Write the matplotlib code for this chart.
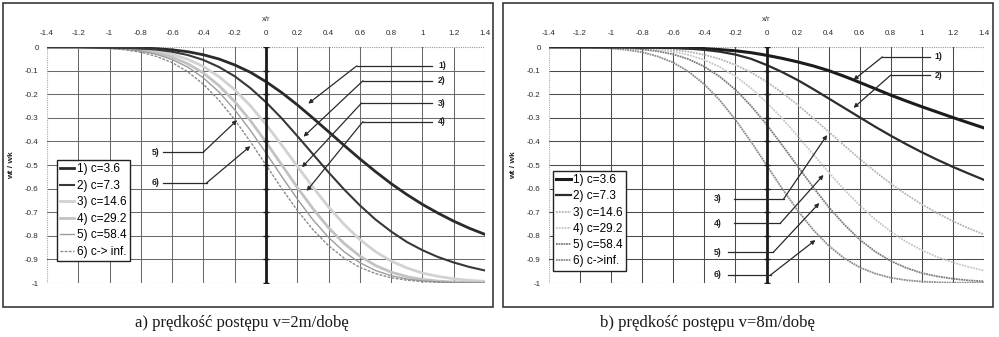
import numpy as np
import matplotlib.pyplot as plt
from matplotlib.patches import Rectangle

x_r = [-1.4, -1.2, -1.0, -0.9, -0.8, -0.7, -0.6, -0.5, -0.4, -0.3, -0.2, -0.1, 0.0,
       0.1, 0.2, 0.3, 0.4, 0.5, 0.6, 0.7, 0.8, 0.9, 1.0, 1.1, 1.2, 1.3, 1.4]

labels = ["1) c=3.6", "2) c=7.3", "3) c=14.6", "4) c=29.2", "5) c=58.4"]
label_inf_a = "6) c-> inf."
label_inf_b = "6) c->inf."

# c -> inf. (same in both panels)
w_inf = [-0.000, -0.001, -0.006, -0.012, -0.022, -0.040, -0.066, -0.105, -0.158, -0.226, -0.308, -0.401, -0.500,
         -0.599, -0.692, -0.774, -0.842, -0.895, -0.934, -0.960, -0.978, -0.988, -0.994, -0.997, -0.999, -0.999, -1.000]

# a) v = 2 m/dobe
a_c1 = [-0.000, -0.000, -0.001, -0.002, -0.004, -0.007, -0.012, -0.020, -0.033, -0.051, -0.076, -0.107, -0.147,
        -0.193, -0.245, -0.301, -0.359, -0.417, -0.474, -0.528, -0.579, -0.625, -0.667, -0.704, -0.738, -0.768, -0.794]
a_c2 = [-0.000, -0.000, -0.002, -0.003, -0.006, -0.011, -0.020, -0.034, -0.055, -0.085, -0.124, -0.174, -0.234,
        -0.302, -0.377, -0.454, -0.531, -0.604, -0.671, -0.731, -0.782, -0.826, -0.861, -0.890, -0.913, -0.932, -0.947]
a_c3 = [-0.000, -0.001, -0.002, -0.005, -0.010, -0.018, -0.031, -0.052, -0.083, -0.126, -0.181, -0.249, -0.328,
        -0.415, -0.505, -0.594, -0.678, -0.752, -0.816, -0.867, -0.907, -0.936, -0.958, -0.972, -0.982, -0.989, -0.993]
a_c4 = [-0.000, -0.001, -0.004, -0.007, -0.014, -0.025, -0.043, -0.071, -0.110, -0.164, -0.231, -0.312, -0.403,
        -0.499, -0.595, -0.685, -0.766, -0.833, -0.886, -0.926, -0.954, -0.973, -0.985, -0.992, -0.996, -0.998, -0.999]
a_c5 = [-0.000, -0.001, -0.004, -0.009, -0.017, -0.031, -0.053, -0.085, -0.131, -0.191, -0.266, -0.353, -0.449,
        -0.548, -0.644, -0.732, -0.807, -0.868, -0.914, -0.947, -0.969, -0.983, -0.991, -0.995, -0.998, -0.999, -1.000]

# b) v = 8 m/dobe
b_c1 = [-0.000, -0.000, -0.000, -0.000, -0.001, -0.001, -0.002, -0.004, -0.007, -0.011, -0.016, -0.024, -0.035,
        -0.048, -0.063, -0.080, -0.100, -0.124, -0.150, -0.177, -0.204, -0.229, -0.253, -0.276, -0.299, -0.321, -0.343]
b_c2 = [-0.000, -0.000, -0.000, -0.000, -0.001, -0.002, -0.004, -0.007, -0.012, -0.020, -0.032, -0.050, -0.076,
        -0.106, -0.140, -0.178, -0.218, -0.258, -0.298, -0.338, -0.376, -0.412, -0.446, -0.478, -0.508, -0.536, -0.563]
b_c3 = a_c1
b_c4 = a_c2
b_c5 = a_c3

x_ticks = [-1.4, -1.2, -1.0, -0.8, -0.6, -0.4, -0.2, 0.0, 0.2, 0.4, 0.6, 0.8, 1.0, 1.2, 1.4]
x_tick_labels = ["-1.4", "-1.2", "-1", "-0.8", "-0.6", "-0.4", "-0.2", "0", "0.2", "0.4", "0.6", "0.8", "1", "1.2", "1.4"]
y_ticks = [0, -0.1, -0.2, -0.3, -0.4, -0.5, -0.6, -0.7, -0.8, -0.9, -1.0]
y_tick_labels = ["0", "-0.1", "-0.2", "-0.3", "-0.4", "-0.5", "-0.6", "-0.7", "-0.8", "-0.9", "-1"]

caption_a = "a) prędkość postępu v=2m/dobę"
caption_b = "b) prędkość postępu v=8m/dobę"

plt.rcParams['font.family'] = ['Liberation Sans', 'DejaVu Sans']

W, H = 999, 337
fig = plt.figure(figsize=(W / 100, H / 100), dpi=100)


def px_rect(x0, y0, x1, y1):
    # pixel box (top-left origin) -> figure fraction [left, bottom, width, height]
    return [x0 / W, 1 - y1 / H, (x1 - x0) / W, (y1 - y0) / H]


def setup(ax, grid_color):
    ax.set_xlim(-1.4, 1.4)
    ax.set_ylim(-1.0, 0.0)
    ax.xaxis.tick_top()
    ax.xaxis.set_label_position('top')
    ax.set_xticks(x_ticks)
    ax.set_xticklabels(x_tick_labels)
    ax.set_yticks(y_ticks)
    ax.set_yticklabels(y_tick_labels)
    ax.tick_params(length=0, labelsize=5.8, colors='#2a2a2a')
    ax.tick_params(axis='x', pad=7)
    ax.tick_params(axis='y', pad=6)
    ax.set_xlabel("x/r", fontsize=5.5, color='#333333', labelpad=7)
    ax.set_ylabel("wt / wk", fontsize=6, fontweight='bold', color='#222222', labelpad=7)
    for s in ax.spines.values():
        s.set_visible(False)
    for xv in x_ticks[1:-1]:
        ax.axvline(xv, color=grid_color, lw=0.75, zorder=1)
    for yv in y_ticks[1:-1]:
        ax.axhline(yv, color=grid_color, lw=0.75, zorder=1)
    for yv in (y_ticks[0], y_ticks[-1]):
        ax.axhline(yv, color='#999999', lw=0.8, ls=(0, (1, 1)), zorder=1)
    for xv in (x_ticks[0], x_ticks[-1]):
        ax.axvline(xv, color='#aaaaaa', lw=0.8, ls=(0, (1, 1)), zorder=1)
    ax.axvline(0, color='#1a1a1a', lw=2.0, zorder=5)
    ax.plot(np.zeros(len(y_ticks)), y_ticks, ls='none', marker='_', ms=5, mew=1.0,
            color='#1a1a1a', zorder=5)


def arrows(ax, items):
    for txt, tpos, ha, hx0, hx1, hy, tip in items:
        ax.plot([hx0, hx1], [hy, hy], color='#2a2a2a', lw=0.9, zorder=6)
        ax.annotate('', xy=tip, xytext=(hx1, hy),
                    arrowprops=dict(arrowstyle='-|>', color='#2a2a2a', lw=0.9,
                                    mutation_scale=6, shrinkA=0, shrinkB=0), zorder=6)
        ax.text(tpos[0], tpos[1], txt, ha=ha, va='center', fontsize=6.2,
                fontweight='bold', color='#222222', zorder=6)


def legend(ax, anchor, spacing):
    leg = ax.legend(loc='upper left', bbox_to_anchor=anchor, fontsize=8.5,
                    handlelength=1.2, handletextpad=0.2, labelspacing=spacing,
                    borderpad=0.3, borderaxespad=0, fancybox=False, framealpha=1)
    leg.get_frame().set_edgecolor('#222222')
    leg.get_frame().set_linewidth(1.0)
    leg.set_zorder(8)


# ---- panel a ----
ax1 = fig.add_axes(px_rect(47, 47, 485, 283))
setup(ax1, '#6a6a6a')
ax1.plot(x_r, a_c1, color='#2a2a2a', lw=2.0, label=labels[0], zorder=4)
ax1.plot(x_r, a_c2, color='#383838', lw=1.5, label=labels[1], zorder=4)
ax1.plot(x_r, a_c3, color='#d2d2d2', lw=2.0, label=labels[2], zorder=3)
ax1.plot(x_r, a_c4, color='#c2c2c2', lw=2.0, label=labels[3], zorder=3)
ax1.plot(x_r, a_c5, color='#9c9c9c', lw=1.0, label=labels[4], zorder=3)
ax1.plot(x_r, w_inf, color='#8a8a8a', lw=1.0, ls=(0, (2, 1)), label=label_inf_a, zorder=3)

arrows(ax1, [
    ("1)", (1.10, -0.08), 'left', 1.06, 0.58, -0.08, (0.27, -0.24)),
    ("2)", (1.10, -0.143), 'left', 1.06, 0.62, -0.143, (0.24, -0.38)),
    ("3)", (1.10, -0.238), 'left', 1.06, 0.61, -0.238, (0.23, -0.51)),
    ("4)", (1.10, -0.316), 'left', 1.06, 0.62, -0.316, (0.26, -0.61)),
    ("5)", (-0.68, -0.445), 'right', -0.66, -0.40, -0.445, (-0.185, -0.31)),
    ("6)", (-0.68, -0.576), 'right', -0.66, -0.38, -0.576, (-0.10, -0.42)),
])
legend(ax1, (0.022, 0.522), 0.38)

# ---- panel b ----
ax2 = fig.add_axes(px_rect(549, 47, 984, 283))
setup(ax2, '#4a4a4a')
ax2.plot(x_r, b_c1, color='#1c1c1c', lw=2.2, label=labels[0], zorder=4)
ax2.plot(x_r, b_c2, color='#2c2c2c', lw=1.6, label=labels[1], zorder=4)
ax2.plot(x_r, b_c3, color='#b4b4b4', lw=1.3, ls=(0, (1, 0.6)), label=labels[2], zorder=3)
ax2.plot(x_r, b_c4, color='#c6c6c6', lw=1.3, ls=(0, (1, 0.6)), label=labels[3], zorder=3)
ax2.plot(x_r, b_c5, color='#7c7c7c', lw=1.3, ls=(0, (1, 0.4)), label=labels[4], zorder=3)
ax2.plot(x_r, w_inf, color='#8c8c8c', lw=1.3, ls=(0, (1, 0.4)), label=label_inf_b, zorder=3)

arrows(ax2, [
    ("1)", (1.08, -0.042), 'left', 1.055, 0.746, -0.042, (0.56, -0.14)),
    ("2)", (1.08, -0.119), 'left', 1.055, 0.80, -0.119, (0.56, -0.258)),
    ("3)", (-0.29, -0.644), 'right', -0.21, 0.11, -0.644, (0.39, -0.373)),
    ("4)", (-0.29, -0.746), 'right', -0.21, 0.09, -0.746, (0.367, -0.542)),
    ("5)", (-0.29, -0.869), 'right', -0.25, 0.045, -0.869, (0.34, -0.661)),
    ("6)", (-0.29, -0.966), 'right', -0.25, 0.026, -0.966, (0.315, -0.818)),
])
legend(ax2, (0.009, 0.476), 0.36)

# outer frames and captions
for x0, x1 in ((3, 493), (503, 993)):
    fig.patches.append(Rectangle((x0 / W, 1 - 307 / H), (x1 - x0) / W, 304 / H,
                                 transform=fig.transFigure, fill=False,
                                 ec='#3a3a3a', lw=1.2))
fig.text(242 / W, 1 - 323 / H, caption_a, ha='center', va='center', fontsize=12,
         family='Liberation Serif', color='#1a1a1a')
fig.text(707 / W, 1 - 323 / H, caption_b, ha='center', va='center', fontsize=12,
         family='Liberation Serif', color='#1a1a1a')

fig.savefig("out.png", dpi=100)
